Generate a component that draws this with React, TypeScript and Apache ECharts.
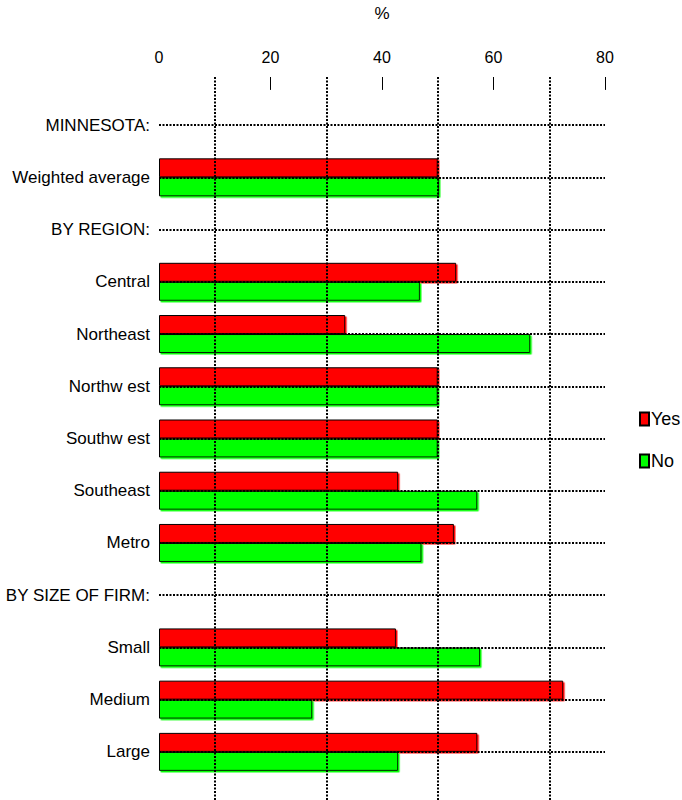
import React, { useEffect, useRef } from "react";
import * as echarts from "echarts";

const categories = [
  "MINNESOTA:",
  "Weighted average",
  "BY REGION:",
  "Central",
  "Northeast",
  "Northw est",
  "Southw est",
  "Southeast",
  "Metro",
  "BY SIZE OF FIRM:",
  "Small",
  "Medium",
  "Large",
];
const yesValues: (number | null)[] = [null, 50, null, 53.3, 33.4, 50, 50, 42.9, 52.9, null, 42.5, 72.5, 57.1];
const noValues: (number | null)[] = [null, 50.2, null, 46.8, 66.6, 50, 50, 57.1, 47.1, null, 57.6, 27.5, 42.9];
const xTicks = [0, 20, 40, 60, 80];
const tickMarks = [20, 40, 60, 80];
const gridLineValues = [10, 30, 50, 70];

const FONT = "'Liberation Sans', Arial, sans-serif";
// vertical helper scale for the top band (0 = bottom of chart, 728 = top edge of grid)
const BAND_MAX = 728;
const TICK_LEN = 13;

export default function App() {
  const ref = useRef<HTMLDivElement>(null);
  useEffect(() => {
    if (!ref.current) return;
    const chart = echarts.init(ref.current, undefined, { renderer: "svg" });
    const dotted = { type: [2, 1.5] as number[], width: 2, color: "#000" };
    chart.setOption({
      animation: false,
      backgroundColor: "#fff",
      textStyle: { fontFamily: FONT, color: "#000" },
      grid: [
        { left: 159, right: 77, top: 99, bottom: 22, containLabel: false },
        { left: 159, right: 77, top: 72, bottom: 0, containLabel: false },
      ],
      xAxis: [
        {
          gridIndex: 0,
          type: "value",
          min: xTicks[0],
          max: xTicks[xTicks.length - 1],
          interval: 20,
          show: false,
        },
        {
          gridIndex: 1,
          type: "value",
          position: "top",
          min: xTicks[0],
          max: xTicks[xTicks.length - 1],
          interval: 20,
          name: "%",
          nameLocation: "middle",
          nameGap: 55,
          nameTextStyle: { fontSize: 17, color: "#000", fontFamily: FONT },
          axisLine: { show: false },
          axisTick: { show: false },
          axisLabel: {
            show: true,
            fontSize: 16,
            color: "#000",
            margin: 12,
            fontFamily: FONT,
          },
          splitLine: { show: false },
        },
      ],
      yAxis: [
        {
          gridIndex: 0,
          type: "category",
          data: categories,
          inverse: true,
          axisLine: { show: false },
          axisTick: { show: false },
          axisLabel: { fontSize: 17, color: "#000", margin: 9, fontFamily: FONT },
          splitLine: { show: false },
        },
        {
          gridIndex: 1,
          type: "value",
          min: 0,
          max: BAND_MAX,
          show: false,
        },
      ],
      legend: {
        orient: "vertical",
        left: 634,
        top: 405,
        itemWidth: 9,
        itemHeight: 13,
        itemGap: 24,
        icon: "rect",
        textStyle: { fontSize: 18, color: "#000", fontFamily: FONT, padding: [0, 0, 0, -3] },
        data: ["Yes", "No"],
      },
      series: [
        {
          name: "gridH",
          type: "line",
          xAxisIndex: 0,
          yAxisIndex: 0,
          data: [],
          z: 1,
          silent: true,
          markLine: {
            silent: true,
            symbol: "none",
            label: { show: false },
            lineStyle: dotted,
            data: categories.map((_, i) => ({ yAxis: i })),
          },
        },
        {
          name: "gridV",
          type: "line",
          xAxisIndex: 1,
          yAxisIndex: 1,
          data: [],
          z: 1,
          silent: true,
          markLine: {
            silent: true,
            symbol: "none",
            label: { show: false },
            lineStyle: dotted,
            data: gridLineValues.map((v) => ({ xAxis: v })),
          },
        },
        {
          name: "ticks",
          type: "line",
          xAxisIndex: 1,
          yAxisIndex: 1,
          data: [],
          z: 1,
          silent: true,
          markLine: {
            silent: true,
            symbol: "none",
            label: { show: false },
            lineStyle: { type: "solid", width: 1, color: "#000" },
            data: tickMarks.map((v) => [
              { coord: [v, BAND_MAX] },
              { coord: [v, BAND_MAX - TICK_LEN] },
            ]),
          },
        },
        {
          name: "Yes",
          type: "bar",
          xAxisIndex: 0,
          yAxisIndex: 0,
          data: yesValues,
          barWidth: 19,
          barGap: "0%",
          z: 3,
          itemStyle: {
            color: "#ff0000",
            borderColor: "#000",
            borderWidth: 1,
            shadowColor: "#ff0000",
            shadowOffsetX: 1.5,
            shadowOffsetY: 1.5,
            shadowBlur: 0,
          },
        },
        {
          name: "No",
          type: "bar",
          xAxisIndex: 0,
          yAxisIndex: 0,
          data: noValues,
          barWidth: 19,
          barGap: "0%",
          z: 3,
          itemStyle: {
            color: "#00ff00",
            borderColor: "#000",
            borderWidth: 1,
            shadowColor: "#00ff00",
            shadowOffsetX: 1.5,
            shadowOffsetY: 1.5,
            shadowBlur: 0,
          },
        },
      ],
    });
    return () => chart.dispose();
  }, []);
  return (
    <div
      ref={ref}
      style={{ position: "absolute", left: 0, top: 0, width: 682, height: 800 }}
    />
  );
}
